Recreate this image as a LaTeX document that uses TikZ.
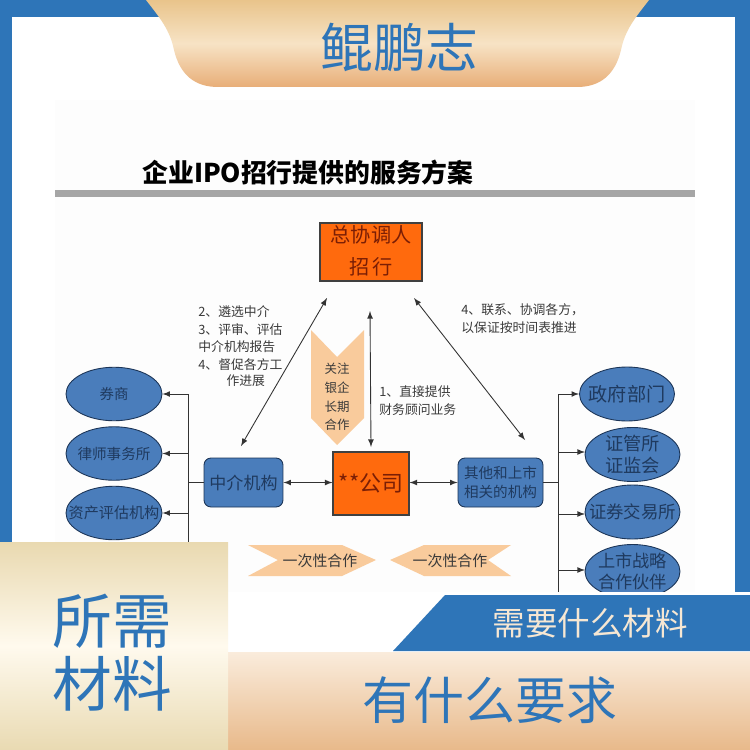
\documentclass[tikz,border=0pt]{standalone}
\usepackage{fontspec}
\setmainfont{Noto Sans CJK SC}
\usetikzlibrary{shapes.geometric}
\definecolor{frameblue}{HTML}{2E75B8}
\definecolor{boxorange}{HTML}{FF6A0D}
\definecolor{boxblue}{HTML}{4A7DBB}
\definecolor{boxline}{HTML}{1C3557}
\definecolor{boxtext}{HTML}{1F3A5F}
\definecolor{redtext}{HTML}{7A1E05}
\definecolor{peach}{HTML}{F9CB9C}
\definecolor{labeltext}{HTML}{3A3A3A}
\definecolor{creamtext}{HTML}{F6E7D3}
\definecolor{bannertop}{HTML}{E9C48B}
\definecolor{bannermid}{HTML}{F7E3C5}
\definecolor{bannerlow}{HTML}{E8AE78}
\definecolor{bandtop}{HTML}{FAECDC}
\definecolor{bandlow}{HTML}{E8B98A}
\definecolor{paneltop}{HTML}{E9D9B0}
\definecolor{panelmid}{HTML}{FFFAEE}
\definecolor{panellow}{HTML}{E9DAB2}
\newcommand{\fsize}[1]{\fontsize{#1}{1.25\dimexpr #1pt\relax}\selectfont}
\tikzset{
    orangebox/.style={rectangle, draw=black!75, line width=0.6pt, fill=boxorange, text=redtext, inner sep=0pt, align=center},
    bluebox/.style={rectangle, rounded corners=4pt, draw=boxline, line width=0.5pt, fill=boxblue, text=boxtext, inner sep=0pt, align=center, minimum width=1.58cm, minimum height=0.98cm},
    blueoval/.style={ellipse, draw=boxline, line width=0.5pt, fill=boxblue, text=boxtext, inner xsep=-12pt, inner ysep=-6pt, align=center},
    leftoval/.style={blueoval, minimum width=1.92cm, minimum height=1.07cm},
    rightoval/.style={blueoval, minimum width=1.9cm, minimum height=1.08cm},
    notetext/.style={text=labeltext, inner sep=0pt, align=left, font=\fsize{7.3}},
    link/.style={draw=black!80, line width=0.5pt},
    arr/.style={link, -latex},
    biarr/.style={link, latex-latex},
    peachtext/.style={text=labeltext, inner sep=0pt, align=center},
    bluetitle/.style={text=frameblue, inner sep=0pt, align=center}
}
\begin{document}
\begin{tikzpicture}[x=0.02cm, y=-0.02cm]
    \useasboundingbox (0,0) rectangle (750,750);
    % frame
    \fill[frameblue] (0,0) rectangle (750,750);
    \fill[white] (12,17) rectangle (735,750);
    \fill[black!0.7] (55,100) rectangle (695,592);
    % heading
    \node[inner sep=0pt, font=\fsize{14.7}\bfseries] (heading) at (308,173) {企业IPO招行提供的服务方案};
    \fill[black!35] (55,190) rectangle (695,197);
    % top boxes
    \node[orangebox, minimum width=2.04cm, minimum height=1.16cm] (leader) at (371,252) {};
    \node[text=redtext, inner sep=0pt, font=\fsize{11.5}] (leadername) at (371,235) {总协调人};
    \node[text=redtext, inner sep=0pt, font=\fsize{11.5}] (leaderbank) at (371,267) {招\,行};
    \node[orangebox, minimum width=1.52cm, minimum height=1.26cm, font=\fsize{12.5}] (company) at (371,483.5) {**公司};
    % middle row
    \node[bluebox, font=\fsize{9.7}] (agency) at (243.5,482.5) {中介机构};
    \node[bluebox, minimum width=1.7cm, font=\fsize{8.3}] (others) at (500.5,482.5) {其他和上市\\相关的机构};
    % left ovals
    \node[leftoval, font=\fsize{8.2}] (broker) at (114,394) {券商};
    \node[leftoval, font=\fsize{8.3}] (lawyer) at (114,453.5) {律师事务所};
    \node[leftoval, font=\fsize{8.6}] (assess) at (114,513) {资产评估机构};
    % right ovals
    \node[rightoval, font=\fsize{10.9}] (govern) at (627,394) {政府部门};
    \node[rightoval, font=\fsize{10.4}] (regul) at (632.5,454.5) {证管所\\证监会};
    \node[rightoval, font=\fsize{9.9}] (bourse) at (632.5,512) {证券交易所};
    \node[rightoval, font=\fsize{9.8}] (partner) at (632.5,571.5) {上市战略\\合作伙伴};
    % bus lines
    \coordinate (lefttop) at (188,394);
    \coordinate (leftend) at (188,545);
    \coordinate (righttop) at (558,394);
    \coordinate (rightend) at (558,592);
    \draw[link] (lefttop) -- (leftend);
    \draw[link] (righttop) -- (rightend);
    \draw[link] (agency.west) -- (agency.west -| lefttop);
    \draw[link] (others.east) -- (others.east -| righttop);
    \draw[arr] (lefttop) -- (broker.east);
    \draw[arr] (lawyer.east -| lefttop) -- (lawyer.east);
    \draw[arr] (assess.east -| lefttop) -- (assess.east);
    \draw[arr] (righttop) -- (govern.west);
    \coordinate (regulend) at (585,452);
    \coordinate (bourseend) at (585,514);
    \coordinate (partnerend) at (585,570);
    \draw[arr] (regulend -| righttop) -- (regulend);
    \draw[arr] (bourseend -| righttop) -- (bourseend);
    \draw[arr] (partnerend -| righttop) -- (partnerend);
    \draw[biarr] (agency.east) -- (agency.east -| company.west);
    \draw[biarr] (others.west -| company.east) -- (others.west);
    % long arrows
    \coordinate (lefthigh) at (327,298);
    \coordinate (leftlow) at (241,446);
    \coordinate (midhigh) at (370,311);
    \coordinate (midlow) at (371,447);
    \coordinate (righthigh) at (414,298);
    \coordinate (rightlow) at (525,440);
    % vertical chevron
    \fill[peach] (311,330) -- (337,357) -- (364,330) -- (364,418) -- (337,445) -- (311,418) -- cycle;
    \node[peachtext, font=\fsize{7.1}] (focus) at (337,397) {关注\\[1.8pt]银企\\[1.8pt]长期\\[1.8pt]合作};
    \draw[biarr] (lefthigh) -- (leftlow);
    \draw[biarr] (midhigh) -- (midlow);
    \draw[biarr] (righthigh) -- (rightlow);
    % notes
    \node[notetext, anchor=west] (notetwo) at (198,346) {2、遴选中介\\[1pt]3、评审、评估\\[1pt]中介机构报告\\[1pt]4、督促各方工\\\hspace{2.2em}作进展};
    \node[notetext, anchor=west] (noteone) at (379,401) {1、直接提供\\[1pt]财务顾问业务};
    \node[notetext, anchor=west] (notefour) at (461,318.5) {4、联系、协调各方，\\[1pt]以保证按时间表推进};
    % horizontal chevrons
    \fill[peach] (248,545) -- (342,545) -- (376,560) -- (342,576) -- (248,576) -- (278,560) -- cycle;
    \fill[peach] (390,560) -- (424,545) -- (511,545) -- (488,560) -- (511,576) -- (424,576) -- cycle;
    \node[peachtext, font=\fsize{8.5}] (onceleft) at (320,561) {一次性合作};
    \node[peachtext, font=\fsize{8.5}] (onceright) at (450,561) {一次性合作};
    % top banner
    \shade[top color=bannertop, bottom color=bannerlow, middle color=bannermid]
        (146,0) .. controls (160,18) and (170,30) .. (174,50) .. controls (180,75) and (195,87) .. (218,87)
        -- (577,87) .. controls (600,87) and (615,75) .. (621,50) .. controls (625,30) and (635,18) .. (649,0) -- cycle;
    \node[bluetitle, font=\fsize{30}] (brand) at (399.5,47) {鲲鹏志};
    % bottom panels
    \fill[white] (228,592) rectangle (750,652);
    \fill[frameblue] (445,595) -- (750,595) -- (750,651) -- (393,651) -- cycle;
    \node[text=creamtext, inner sep=0pt, font=\fsize{18.5}] (needs) at (590,623) {需要什么材料};
    \shade[top color=bandtop, bottom color=bandlow] (228,652) rectangle (750,750);
    \node[bluetitle, font=\fsize{29}] (demand) at (490,700) {有什么要求};
    \shade[top color=paneltop, bottom color=panellow, middle color=panelmid] (0,542) rectangle (228,750);
    \node[bluetitle, font=\fsize{34}] (material) at (112,621) {所需};
    \node[bluetitle, font=\fsize{34}] (materialb) at (112,684) {材料};
\end{tikzpicture}
\end{document}
